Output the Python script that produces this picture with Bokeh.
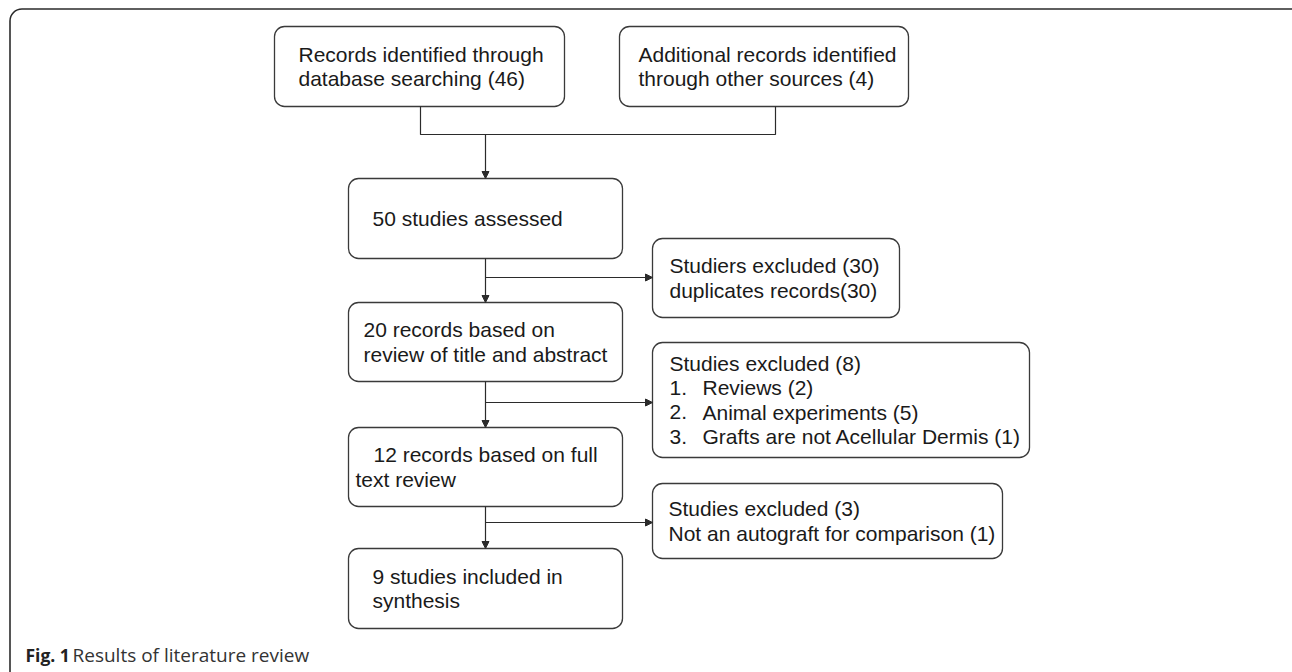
from bokeh.plotting import figure
from bokeh.models import Range1d, Arrow, NormalHead
from bokeh.core.properties import value
from bokeh.embed import file_html
from bokeh.resources import INLINE

# ---- flowchart content ----
box_names = ["db", "other", "assessed", "screened", "fulltext", "included", "excl1", "excl2", "excl3"]
box_lines = [
    ["Records identified through", "database searching (46)"],
    ["Additional records identified", "through other sources (4)"],
    ["50 studies assessed"],
    ["20 records based on", "review of title and abstract"],
    ["12 records based on full", "text review"],
    ["9 studies included in", "synthesis"],
    ["Studiers excluded (30)", "duplicates records(30)"],
    ["Studies excluded (8)", "Reviews (2)", "Animal experiments (5)", "Grafts are not Acellular Dermis (1)"],
    ["Studies excluded (3)", "Not an autograft for comparison (1)"],
]
list_numbers = ["", "1.", "2.", "3."]
caption_bold = "Fig. 1"
caption_text = "Results of literature review"

# ---- layout (pixels) ----
box_left = [274, 619, 348, 348, 348, 348, 652, 652, 652]
box_right = [564, 908, 622, 622, 622, 622, 899, 1029, 1002]
box_top = [26, 26, 178, 302, 427, 548, 238, 342, 483]
box_bottom = [106, 106, 258, 381, 506, 628, 317, 457, 558]
text_x = [[298, 298], [638, 638], [372], [363, 363], [373, 355], [372, 372],
          [669, 669], [669, 702, 702, 702], [668, 668]]
line_step = 24.5

W, H = 1292, 672
p = figure(width=W, height=H, x_range=Range1d(0, W), y_range=Range1d(H, 0),
           output_backend="svg", toolbar_location=None, min_border=0)
p.axis.visible = False
p.grid.visible = False
p.outline_line_color = None
p.background_fill_color = "white"
p.border_fill_color = "white"

# outer frame
p.quad(left=[9.5], right=[1304], top=[8.5], bottom=[700], fill_color=None,
       line_color="#2b2b2b", line_width=1.6, border_radius=12)

# boxes
p.quad(left=box_left, right=box_right, top=box_top, bottom=box_bottom,
       fill_color="white", line_color="#3a3a3a", line_width=1.3, border_radius=10)

font = value("Liberation Sans")
xs, ys, ts = [], [], []
for i, lines in enumerate(box_lines):
    c = (box_top[i] + box_bottom[i]) / 2
    n = len(lines)
    for j, t in enumerate(lines):
        xs.append(text_x[i][j])
        ys.append(c + (j - (n - 1) / 2) * line_step)
        ts.append(t)
# numbers for list in excl2
k = box_names.index("excl2")
c = (box_top[k] + box_bottom[k]) / 2
for j, num in enumerate(list_numbers):
    if num:
        xs.append(669)
        ys.append(c + (j - 1.5) * line_step)
        ts.append(num)

p.text(x=xs, y=ys, text=ts, text_font=font, text_font_size="21px",
       text_color="#1a1a1a", text_baseline="middle", text_align="left")

# connectors
lc = "#2b2b2b"
p.line(x=[420, 420, 775, 775], y=[106, 134, 134, 106], line_color=lc, line_width=1.2)

def arrow(x0, y0, x1, y1):
    p.add_layout(Arrow(x_start=x0, y_start=y0, x_end=x1, y_end=y1, line_color=lc, line_width=1.2,
                       end=NormalHead(size=7, fill_color=lc, line_color=lc, line_width=1)))

ax = 485
arrow(ax, 134, ax, 178)
arrow(ax, 258, ax, 302)
arrow(ax, 381, ax, 427)
arrow(ax, 506, ax, 548)
arrow(ax, 277, 652, 277)
arrow(ax, 402, 652, 402)
arrow(ax, 522, 652, 522)

# caption
p.text(x=[25], y=[654], text=[caption_bold], text_font=value("Open Sans"), text_font_style="bold",
       text_font_size="17.5px", text_color="#222222", text_baseline="middle")
p.text(x=[72], y=[654], text=[caption_text], text_font=value("Open Sans"),
       text_font_size="19px", text_color="#333333", text_baseline="middle")

open("out.html", "w").write(file_html(p, INLINE))
